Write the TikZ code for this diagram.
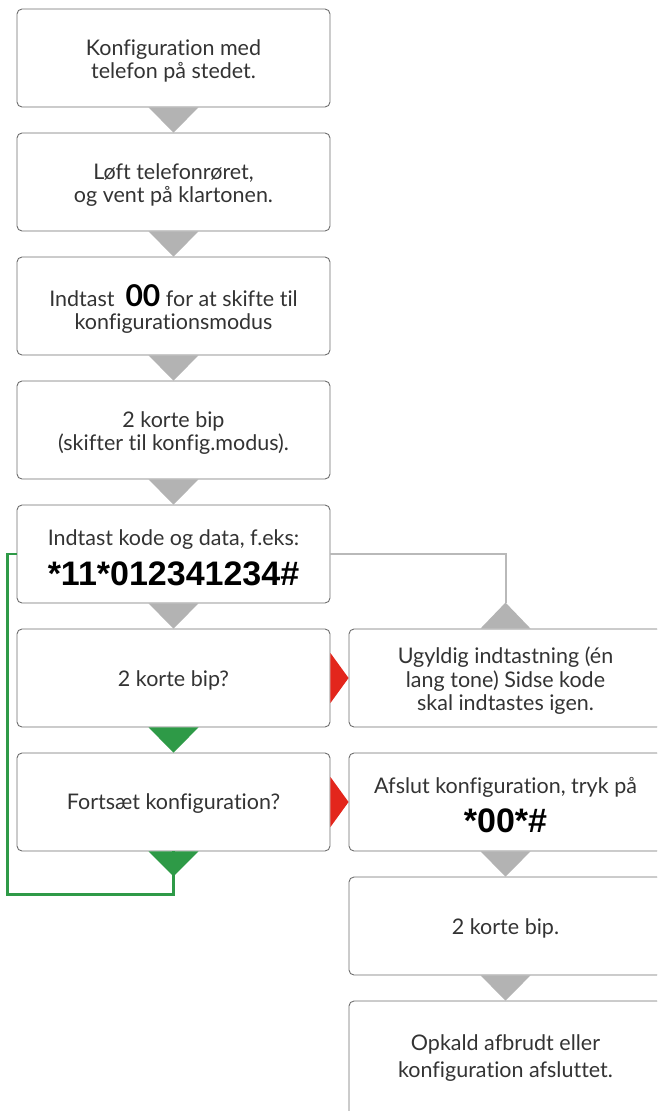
\documentclass[tikz,border=0pt]{standalone}
\usepackage{fontspec}
\setmainfont{Lato}[Ligatures={NoCommon}]
\newfontfamily\codefont{Liberation Sans}
\usetikzlibrary{calc}
\definecolor{bordergray}{HTML}{6E6E6E}
\definecolor{trigray}{HTML}{B3B3B3}
\definecolor{linegray}{HTML}{B9B9B9}
\definecolor{okgreen}{HTML}{2E9A47}
\definecolor{errred}{HTML}{E3261C}
\definecolor{txt}{HTML}{333333}
\tikzset{
  box/.style={draw=bordergray, line width=0.9pt, rounded corners=5pt, fill=white,
    minimum width=313pt, minimum height=98pt, inner sep=0pt},
  label/.style={text=txt, font=\fontsize{21.5}{23.5}\selectfont, align=center, inner sep=0pt},
  blabel/.style={label, anchor=base},
  code/.style={text=black, font=\codefont\bfseries\fontsize{34}{36}\selectfont, inner sep=0pt, anchor=base},
  tri/.style={fill=trigray, draw=none},
  gtri/.style={fill=okgreen, draw=none},
  rtri/.style={fill=errred, draw=none},
  gline/.style={draw=okgreen, line width=2.2pt},
  lline/.style={draw=linegray, line width=2pt},
}
\begin{document}
\begin{tikzpicture}[x=1pt,y=-1pt]
\useasboundingbox (0,0) rectangle (657,1111);
\begin{scope}
\clip (0,0) rectangle (657,1111);
% left column
\node[box] (b1) at (173.5,58) {};
\node[label] (b1t) at ($(b1.center)+(0,3)$) {Konfiguration med\\telefon på stedet.};
\node[box] (b2) at (173.5,182) {};
\node[label] (b2t) at ($(b2.center)+(0,3)$) {Løft telefonrøret,\\og vent på klartonen.};
\node[box] (b3) at (173.5,306) {};
\node[label] (b3t) at ($(b3.center)+(0,3)$) {Indtast\ \ {\bfseries\fontsize{30}{23.5}\selectfont\color{black}00} for at skifte til\\konfigurationsmodus};
\node[box] (b4) at (173.5,430) {};
\node[label] (b4t) at ($(b4.center)+(0,3)$) {2 korte bip\\(skifter til konfig.modus).};
\node[box] (b5) at (173.5,554) {};
\node[blabel] (b5a) at (173.5,545) {Indtast kode og data, f.eks:};
\node[code] (b5b) at (173.5,585) {*11*012341234\#};
\node[box] (b6) at (173.5,678) {};
\node[label] (b6t) at ($(b6.center)+(0,2)$) {2 korte bip?};
\node[box] (b7) at (173.5,802) {};
\node[label] (b7t) at ($(b7.center)+(0,2)$) {Fortsæt konfiguration?};
% right column
\node[box] (r1) at (505.5,678) {};
\node[label] (r1t) at ($(r1.center)+(0,3)$) {Ugyldig indtastning (én\\lang tone) Sidse kode\\skal indtastes igen.};
\node[box] (r2) at (505.5,802) {};
\node[blabel] (r2a) at (505.5,793) {Afslut konfiguration, tryk på};
\node[code] (r2b) at (505.5,832) {*00*\#};
\node[box] (r3) at (505.5,926) {};
\node[label] (r3t) at ($(r3.center)+(0,2)$) {2 korte bip.};
\node[box,minimum height=140pt] (r4) at (505.5,1071) {};
\node[blabel] (r4a) at (505.5,1050) {Opkald afbrudt eller};
\node[blabel] (r4b) at (505.5,1077) {konfiguration afsluttet.};
% green loop
\coordinate (gl) at ($(b7.south)+(0,43)$);
\draw[gline] (b7.south) -- (gl) -| ($(b5.west)+(-9,0)$) -- (b5.west);
% gray connector to r1
\coordinate (gap) at ($(r1.north)+(0,-26)$);
\draw[lline] (b5.east) -| (gap);
\fill[tri] ($(r1.north)+(-25,0)$) -- ($(r1.north)+(25,0)$) -- (gap) -- cycle;
% gray down triangles
\foreach \a/\b in {b1/b2,b2/b3,b3/b4,b4/b5,b5/b6,r2/r3,r3/r4}{
  \fill[tri] ($(\a.south)+(-25,0)$) -- ($(\a.south)+(25,0)$) -- (\b.north) -- cycle;
}
% green triangles
\fill[gtri] ($(b6.south)+(-25,0)$) -- ($(b6.south)+(25,0)$) -- (b7.north) -- cycle;
\fill[gtri] ($(b7.south)+(-25,0)$) -- ($(b7.south)+(25,0)$) -- ($(b7.south)+(0,25)$) -- cycle;
% red triangles
\fill[rtri] ($(b6.east)+(0,-25)$) -- ($(b6.east)+(0,25)$) -- (r1.west) -- cycle;
\fill[rtri] ($(b7.east)+(0,-25)$) -- ($(b7.east)+(0,25)$) -- (r2.west) -- cycle;
\end{scope}
\end{tikzpicture}
\end{document}
